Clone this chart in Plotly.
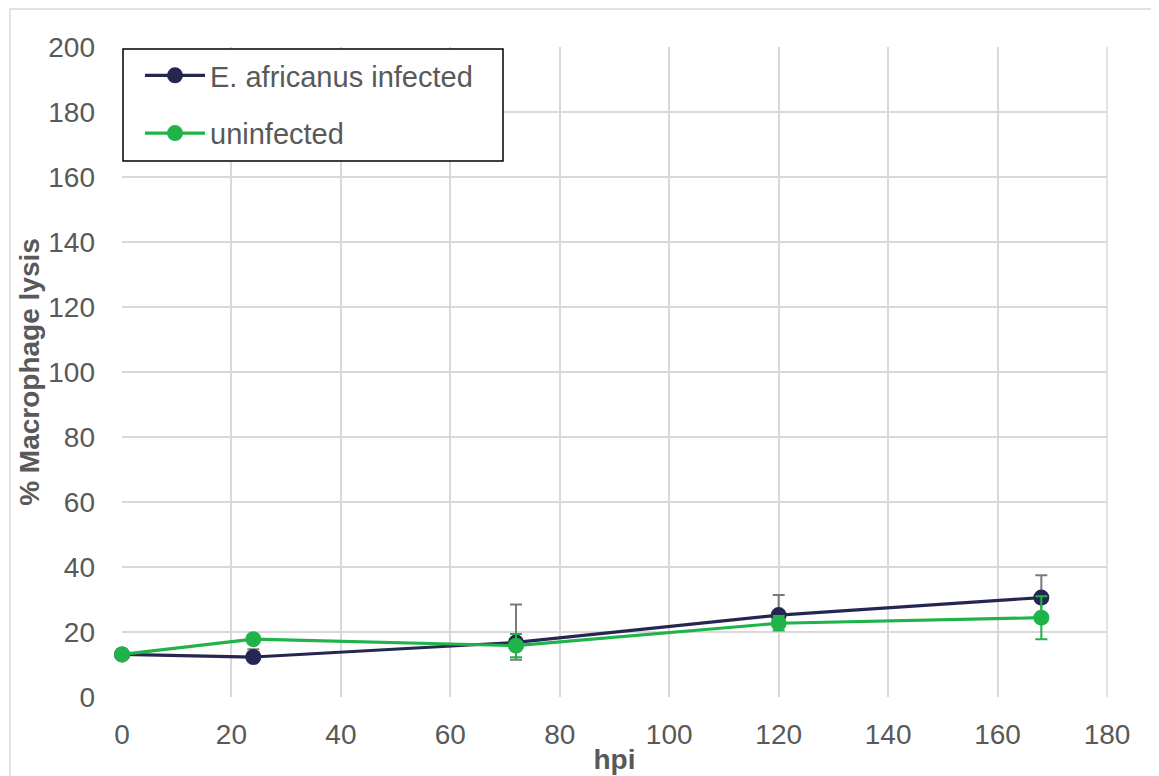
import plotly.graph_objects as go

hpi = [0, 24, 72, 120, 168]
infected = [13.1, 12.3, 16.8, 25.2, 30.6]
infected_err_plus = [0, 2.4, 11.7, 6.2, 6.9]
infected_err_minus = [0, 1.0, 5.3, 3.0, 6.9]
uninfected = [13.1, 17.8, 15.8, 22.7, 24.4]
uninfected_err = [0, 0.8, 3.6, 2.2, 6.6]

x_ticks = [0, 20, 40, 60, 80, 100, 120, 140, 160, 180]
y_ticks = [0, 20, 40, 60, 80, 100, 120, 140, 160, 180, 200]

DARK = "#252752"
GREEN = "#1fb34a"
TXT = "#595959"
FONT = "Arial, Liberation Sans, sans-serif"

fig = go.Figure()
fig.add_trace(go.Scatter(
    x=hpi, y=infected, mode="lines+markers", name="E. africanus infected",
    legendgroup="a", cliponaxis=False,
    line=dict(color=DARK, width=3.2), marker=dict(color=DARK, size=16),
    error_y=dict(type="data", array=infected_err_plus, arrayminus=infected_err_minus,
                 symmetric=False, color="#7a7a7a", thickness=2, width=6),
))
fig.add_trace(go.Scatter(
    x=hpi, y=uninfected, mode="lines+markers", name="uninfected",
    legendgroup="b", cliponaxis=False,
    line=dict(color=GREEN, width=3.2), marker=dict(color=GREEN, size=16),
    error_y=dict(type="data", array=uninfected_err, color=GREEN, thickness=2, width=6),
))

OFF = 8  # page body margin
W, H = 1159 - OFF, 776 - OFF
L, R, T, B = 122 - OFF, 1107 - OFF, 47 - OFF, 697 - OFF
pw, ph = R - L, B - T


def px(xw):
    return (xw - OFF - L) / pw


def py(yw):
    return (B - (yw - OFF)) / ph


# outer light frame
fig.add_shape(type="rect", xref="paper", yref="paper",
              x0=px(10), x1=px(1175), y0=py(800), y1=py(9),
              line=dict(color="#d9d9d9", width=1.5), fillcolor="rgba(0,0,0,0)",
              layer="below")
# right plot border
fig.add_shape(type="line", xref="paper", yref="paper", x0=1, x1=1, y0=0, y1=1,
              line=dict(color="#d9d9d9", width=1.5), layer="below")
# legend box
fig.add_shape(type="rect", xref="paper", yref="paper",
              x0=px(123), x1=px(503), y0=py(161), y1=py(49),
              line=dict(color="black", width=1.5), fillcolor="white",
              layer="above")

fig.update_layout(
    width=W, height=H,
    margin=dict(l=L, r=W - R, t=T, b=H - B, pad=0),
    paper_bgcolor="white", plot_bgcolor="white",
    font=dict(family=FONT, size=28, color=TXT),
    showlegend=True,
    legend=dict(
        x=px(140), y=py(50), xanchor="left", yanchor="top",
        bgcolor="rgba(0,0,0,0)", borderwidth=0,
        font=dict(family=FONT, size=29, color=TXT),
        tracegroupgap=17, traceorder="grouped",
        itemwidth=60,
    ),
    xaxis=dict(
        range=[0, 180], tickvals=x_ticks, ticktext=[str(v) for v in x_ticks],
        showgrid=True, gridcolor="#d9d9d9", gridwidth=1.5,
        zeroline=False, showline=False, ticks="",
        ticklabelstandoff=18,
        tickfont=dict(size=28, color=TXT),
        title=dict(text="<b>hpi</b>", font=dict(size=28, color=TXT), standoff=0),
        automargin=False,
    ),
    yaxis=dict(
        range=[0, 200], tickvals=y_ticks, ticktext=[str(v) for v in y_ticks],
        showgrid=True, gridcolor="#d9d9d9", gridwidth=1.5,
        zeroline=False, showline=False, ticks="",
        ticklabelstandoff=26,
        tickfont=dict(size=28, color=TXT),
        title=dict(text="<b>% Macrophage lysis</b>", font=dict(size=28, color=TXT), standoff=0),
        automargin=False,
    ),
)

fig.write_html("out.html")
